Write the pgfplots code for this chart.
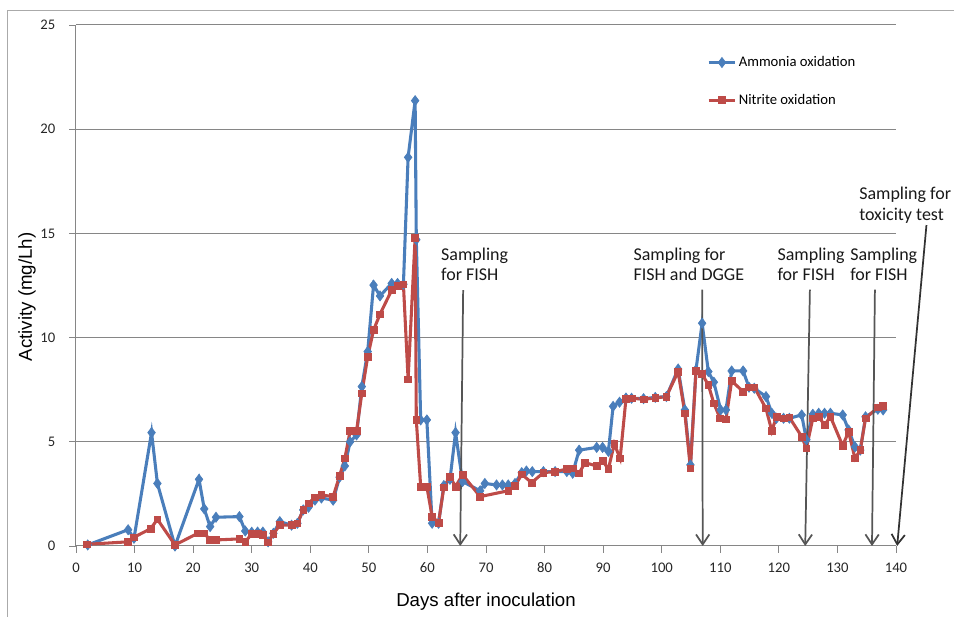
\documentclass[border=0pt]{standalone}
\usepackage{fontspec}
\setmainfont{Carlito}
\newfontfamily\arialfont{Liberation Sans}
\usepackage{pgfplots}
\pgfplotsset{compat=1.18}
\usepackage{pgfplotstable}
\usetikzlibrary{arrows.meta}

\definecolor{ammonia}{RGB}{74,126,187}
\definecolor{nitrite}{RGB}{190,75,72}
\definecolor{gridgray}{RGB}{134,134,134}
\definecolor{arrowgray}{RGB}{85,85,85}
\definecolor{framegray}{RGB}{170,170,170}

% day, activity (mg/Lh)
\pgfplotstableread{
day act
2.0 0.05
8.9 0.78
9.9 0.37
12.9 5.44
13.9 3.00
16.9 0.00
21.0 3.20
21.9 1.78
22.9 0.93
23.9 1.38
27.9 1.41
28.9 0.72
30.0 0.66
31.0 0.67
31.9 0.67
32.8 0.20
33.7 0.61
34.8 1.17
36.8 1.00
37.8 1.09
38.8 1.73
39.7 1.86
40.8 2.20
41.9 2.30
43.9 2.20
45.0 3.30
45.9 3.84
46.8 5.00
47.9 5.33
48.8 7.65
49.8 9.33
50.8 12.52
51.9 12.00
53.9 12.60
54.9 12.60
55.9 12.56
56.7 18.65
57.9 21.37
58.1 14.70
58.85 6.05
59.9 6.05
60.8 1.09
61.9 1.09
62.8 2.90
63.85 3.20
64.8 5.44
66.0 3.09
69.0 2.65
69.8 3.00
71.8 2.93
72.8 2.93
73.8 2.93
74.95 3.00
76.1 3.52
76.9 3.60
77.9 3.57
79.8 3.57
81.8 3.57
83.8 3.57
84.8 3.49
85.9 4.60
88.9 4.73
89.9 4.73
90.9 4.54
91.7 6.70
92.8 6.90
93.9 7.10
94.85 7.09
96.9 7.07
98.9 7.13
100.8 7.17
102.8 8.49
103.95 6.53
104.9 3.89
105.85 8.45
106.9 10.69
107.96 8.37
108.9 7.86
110.07 6.53
110.97 6.53
111.94 8.40
113.9 8.40
114.9 7.62
115.8 7.57
117.8 7.17
118.8 6.37
119.6 6.13
120.8 6.13
121.8 6.13
123.9 6.29
124.7 5.10
125.8 6.32
126.8 6.37
127.8 6.37
128.8 6.37
130.9 6.29
131.9 5.57
133.0 4.76
133.9 4.60
134.8 6.20
136.9 6.56
137.8 6.53
}\ammonia

\pgfplotstableread{
day act
1.8 0.08
8.9 0.20
9.9 0.42
12.75 0.83
13.9 1.28
16.9 0.05
20.8 0.61
21.9 0.61
22.9 0.29
23.9 0.29
27.9 0.34
28.9 0.20
30.0 0.58
31.0 0.58
31.9 0.53
32.8 0.18
33.7 0.58
34.8 1.00
36.8 1.00
37.8 1.09
38.8 1.73
39.7 2.05
40.8 2.34
41.9 2.45
43.9 2.37
45.0 3.36
45.9 4.20
46.8 5.52
47.9 5.52
48.8 7.33
49.8 9.08
50.8 10.36
51.9 11.12
53.9 12.28
54.9 12.47
55.9 12.56
56.7 8.00
57.9 14.80
58.1 6.05
58.85 2.85
59.9 2.85
60.8 1.41
61.9 1.12
62.8 2.82
63.85 3.33
64.8 2.85
66.0 3.42
69.0 2.37
73.8 2.65
74.95 2.88
76.1 3.44
77.8 3.04
79.8 3.52
81.8 3.57
83.8 3.69
84.8 3.73
85.9 3.49
86.9 4.00
88.9 3.84
89.9 4.08
90.9 3.70
91.9 4.90
92.9 4.20
93.9 7.07
94.85 7.09
96.9 7.04
98.9 7.10
100.8 7.17
102.8 8.37
103.95 6.37
104.9 3.73
105.85 8.41
106.9 8.25
107.96 7.73
108.9 6.85
109.95 6.13
110.97 6.08
111.94 7.92
113.9 7.41
114.9 7.62
115.8 7.62
117.8 6.60
118.8 5.52
119.6 6.21
120.8 6.13
121.8 6.17
123.9 5.25
124.7 4.69
125.8 6.13
126.8 6.21
127.8 5.80
128.8 6.21
130.9 4.81
131.9 5.49
133.0 4.20
133.9 4.60
134.8 6.13
136.9 6.65
137.8 6.72
}\nitrite

\begin{document}
\begin{tikzpicture}
\path[use as bounding box] (0,0) rectangle (715.5pt,462.75pt);
% chart frame
\draw[framegray, line width=0.6pt] (5.25pt,0pt) -- (5.25pt,455.25pt) -- (715.5pt,455.25pt);
\begin{axis}[
  at={(57pt,53.25pt)}, anchor=south west,
  scale only axis, width=615pt, height=390.75pt,
  xmin=0, xmax=140, ymin=0, ymax=25,
  xtick={0,10,...,140}, ytick={0,5,...,25},
  axis lines=left,
  axis line style={-, gridgray, line width=0.75pt},
  tick align=outside,
  major tick length=5pt,
  tick style={gridgray, line width=0.6pt},
  ymajorgrids,
  grid style={gridgray, line width=0.75pt},
  /pgf/number format/assume math mode=true,
  tick label style={font=\fontsize{11}{13}\selectfont, text=black!85},
  xticklabel style={yshift=-4pt},
  yticklabel style={xshift=-7pt},
  xlabel={\arialfont Days after inoculation},
  ylabel={\arialfont Activity (mg/Lh)},
  label style={font=\fontsize{14}{16}\selectfont},
  x label style={at={(axis description cs:0.5,-0.1075)}, anchor=center},
  y label style={at={(axis description cs:-0.0598,0.478)}, anchor=center},
  clip=false,
  legend style={at={(axis cs:107.7,23.6)}, anchor=north west, draw=none, fill=none,
    inner sep=0pt, row sep=16pt, font=\fontsize{11}{13}\selectfont,
    nodes={inner sep=1.5pt}},
  legend cell align=left,
  legend image code/.code={\draw[mark repeat=2,mark phase=2] plot coordinates {(0pt,0pt)(10pt,0pt)(20pt,0pt)};},
]
\addplot[ammonia, line width=2.3pt, mark=diamond*, mark size=3.8pt,
  mark options={solid, fill=ammonia, line width=0.5pt}] table[x=day, y=act] {\ammonia};
\addlegendentry{Ammonia oxidation}
\addplot[nitrite, line width=2.3pt, mark=square*, mark size=2.5pt,
  mark options={solid, fill=nitrite, line width=0.5pt}] table[x=day, y=act] {\nitrite};
\addlegendentry{Nitrite oxidation}

% sampling events
\begin{scope}[arrowgray, line width=1.3pt, -{Straight Barb[length=7.5pt, width=10pt]}]
\draw (axis cs:66.1,12.28) -- (axis cs:65.6,0);
\draw (axis cs:106.9,12.3) -- (axis cs:107.0,0);
\draw (axis cs:125.3,12.3) -- (axis cs:124.5,0);
\draw (axis cs:136.4,12.3) -- (axis cs:135.9,0);
\draw[black!80] (axis cs:145.2,15.4) -- (axis cs:140.2,0);
\end{scope}
\begin{scope}[every node/.style={anchor=base west, inner sep=0pt, font=\fontsize{13.5}{15}\selectfont, text=black!90}]
\node at (axis cs:62.3,13.69) {Sampling};
\node at (axis cs:62.3,12.73) {for FISH};
\node at (axis cs:95.15,13.69) {Sampling for};
\node at (axis cs:95.15,12.73) {FISH and DGGE};
\node at (axis cs:119.74,13.72) {Sampling};
\node at (axis cs:119.74,12.76) {for FISH};
\node at (axis cs:132.15,13.72) {Sampling};
\node at (axis cs:132.15,12.76) {for FISH};
\node at (axis cs:133.68,16.64) {Sampling for};
\node at (axis cs:133.68,15.64) {toxicity test};
\end{scope}
\end{axis}
\end{tikzpicture}
\end{document}
